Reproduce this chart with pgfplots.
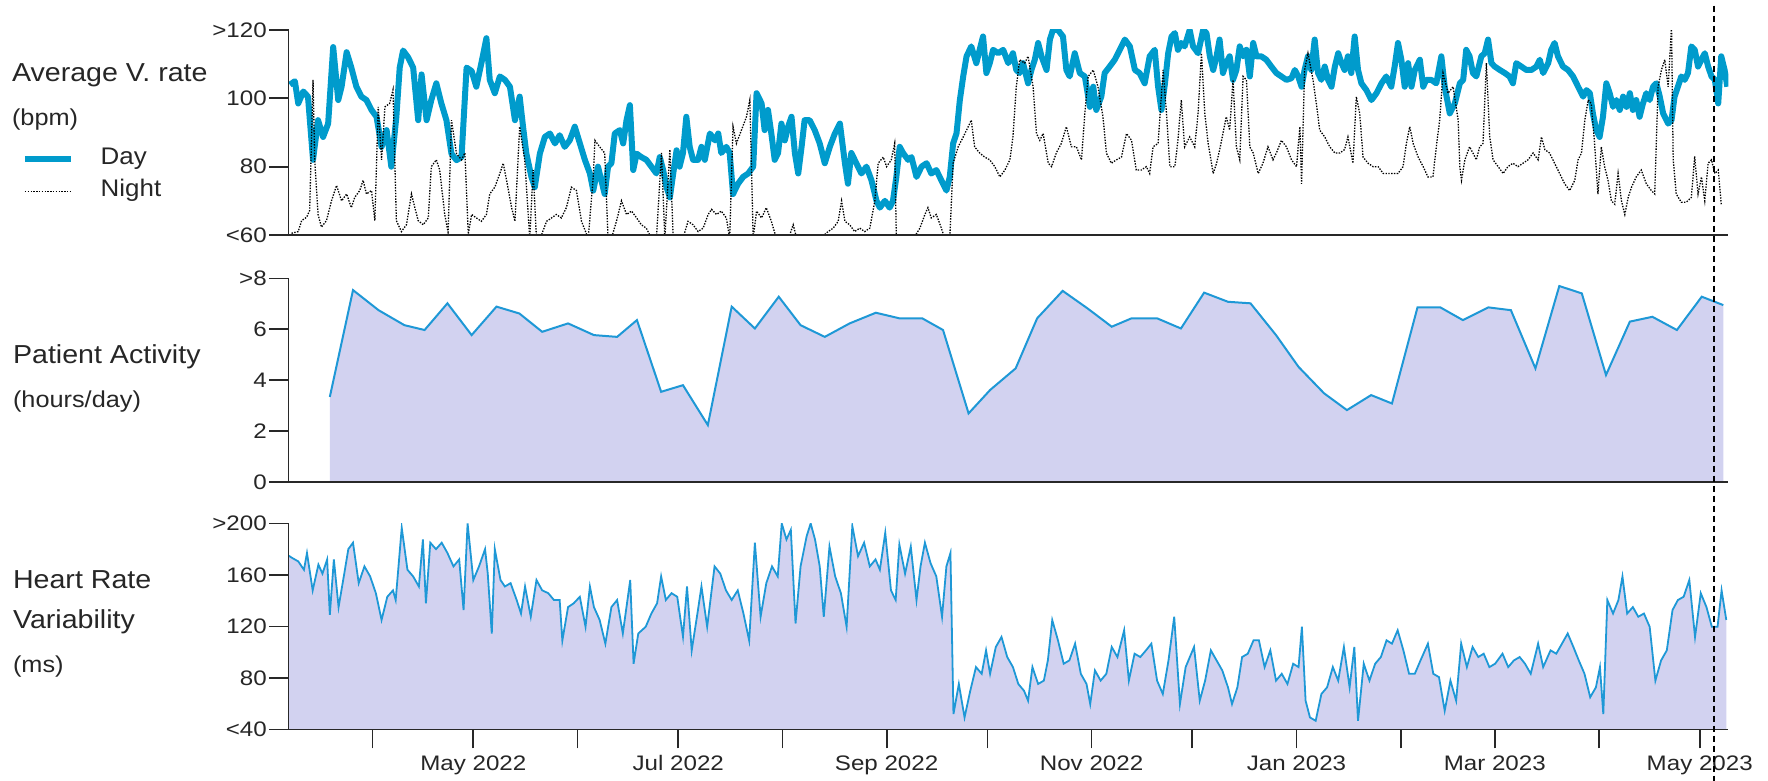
\documentclass[border=0pt]{standalone}
\usepackage{fontspec}
\setmainfont{Liberation Sans}
\usepackage{pgfplots}
\usepackage{pgfplotstable}
\pgfplotsset{compat=1.18}
\definecolor{daycol}{RGB}{0,155,204}
\definecolor{hrvcol}{RGB}{30,152,214}
\definecolor{fillcol}{RGB}{210,210,240}
\definecolor{axcol}{RGB}{40,40,40}

\pgfplotstableread{
d v
65.4 104
66.9 105
67.9 98.5
69.4 102
70.8 100.5
72.3 82
73.8 93.6
75.3 88.7
76.8 92.6
78.3 115
79.8 99.5
80.8 103.4
82.3 113.5
83.7 109
85.2 103.4
86.7 100.5
88.2 99.5
89.7 96.6
91.2 94.6
92.7 85.8
94.2 90.7
95.6 80
97.1 94.6
98.1 109
99.1 114
100.6 112
102.1 109
103.6 93.6
104.6 107
106.1 93.6
107.5 99.5
109 104.4
110.5 98.5
112 93.6
113.5 83.8
115 81.9
116.5 82.8
118 109
119.5 108
120.9 103.4
122.4 110.3
123.9 117.6
124.9 105.4
126.4 101.5
127.9 106.4
129.4 105.4
130.9 103.4
132.4 93.6
133.8 100.5
134.8 91.7
135.8 83.8
137.3 77
138.3 74
139.8 83.8
141.3 88.7
142.8 89.7
144.3 86.8
145.7 89.2
147.2 85.8
148.7 87.7
150.2 91.7
153.2 82
154.7 78
155.7 73
157.1 80
158.1 76
159.1 72
160.1 80
161.1 81
162.1 89.7
163.6 90.7
164.6 86.8
165.6 93.6
166.6 98
167.6 79
168.6 83.8
170 82.8
171.5 82
173 80
174.5 78
175.5 82.8
176.5 79
177.5 74
178.5 71
179.5 78
180.5 84.8
181.4 80
182.4 84
183.4 94.6
184.4 85.8
185.4 82
186.9 82
187.9 85.8
188.9 82
190.4 89.7
191.9 87.7
192.9 89.7
193.8 84
195.3 85.8
196.3 84
197.3 72
198.8 75
200.3 77
201.8 78
203.3 80
204.3 101.5
205.8 98.5
206.7 90.7
207.7 96.6
208.7 89.7
209.7 82
210.7 84
211.7 92.6
212.7 87.7
213.7 91.7
214.7 94.6
215.7 84
216.7 78
217.7 85.8
218.6 93.6
220.1 93.6
221.6 90.7
223.1 86.8
224.6 81
226.1 85.8
227.6 89.7
229.1 92.6
230.6 81
231.5 75
232.5 84
234 81
235.5 78
237 80
238.5 76
240 70
241 68
242.5 70
243.9 68
244.9 70
245.9 77
246.9 85.8
247.9 84
249.4 82
250.4 82.8
251.9 77
253.4 80
254.9 81
256.3 78
257.8 79
259.3 76
260.8 73
261.8 77
262.8 86.8
263.8 89.7
264.8 99.5
265.8 106.4
266.8 112.3
268.2 115.2
269.7 110.3
270.7 114.2
271.7 118.1
272.7 107.4
273.7 110.3
274.7 114.2
276.2 113.2
277.7 114.2
279.2 110.3
280.6 113.2
281.6 108.3
282.6 107.4
283.6 110.3
285.1 104.4
286.1 108.3
287.1 111.3
288.1 116.2
289.1 112.3
290.6 108.3
291.6 117.2
292.5 120
294 120
295.5 118.1
296.5 108.3
297.5 106.4
299 113.2
300.5 107.4
302 106.4
303.5 97.5
304.5 103.4
305.4 96.6
306.9 100.5
307.9 107.4
309.4 109.3
310.9 111.3
312.4 114.2
313.9 117.2
315.4 115.2
316.9 108.3
318.3 107.4
319.8 104.4
321.3 112.3
322.8 114.2
323.8 103.4
324.8 96.6
325.8 104
326.8 113.2
327.8 118.1
328.8 119.1
329.7 114.2
330.7 116.2
331.7 115.2
333.2 120
334.2 115.2
335.7 113.2
337.2 120
338.2 119.1
339.2 112.3
340.2 108.3
341.2 112.3
342.1 117.2
343.1 107.4
344.1 110.3
345.1 112.3
346.1 105.4
347.1 108.3
348.1 115.2
349.1 112.3
350.1 114.2
351.1 106.4
352.1 116.2
353.1 112.3
354.5 112.3
356 111.3
357.5 109.3
359 107.4
360.5 106.4
362 105.4
363.5 105.9
364.5 108.3
365.5 106.4
366.5 103.4
367.4 108.3
368.4 112.3
369.4 108.3
370.4 117.2
371.4 107.4
372.4 105.4
373.4 109.3
374.4 105.4
375.4 103.4
376.4 109.3
377.4 113.2
378.4 110.3
379.3 108.3
380.3 112.3
381.3 107.4
382.3 118.1
383.3 108.3
384.3 104.4
385.8 102.4
387.3 99.5
388.8 101.5
390.3 104.4
391.7 106.4
393.2 103.4
394.2 109.3
395.2 116.2
396.2 111.3
397.2 103.4
398.2 110.3
399.2 103.4
400.2 108.3
401.7 111.3
402.7 103.4
403.6 105.4
405.1 105.4
406.6 104.4
408.1 112.3
409.1 103.4
410.6 95.6
412.1 98.5
413.6 104.4
414.6 105.4
415.5 114.2
416.5 112.3
417.5 107.4
418.5 106.4
420 112.3
421 113.2
422 117.2
423 110.3
424 109.3
425.5 108.3
427 107.4
428.4 106.4
429.4 104.4
430.4 110.3
431.9 109.3
433.4 108.3
434.9 108.3
436.4 109.3
437.4 111.3
438.4 107.4
439.9 110.3
440.8 114.2
441.8 116.2
442.8 112.3
444.3 109.3
445.8 108.3
447.3 106.4
448.8 103.4
450.3 100.5
451.3 102.4
452.3 101.5
453.2 95.6
454.2 90.7
455.2 88.7
456.2 94.6
457.2 104.4
458.2 101.5
459.2 97.5
460.2 99.5
461.2 96.6
462.2 100.5
463.2 97.5
464.2 101.5
465.1 96.6
466.1 99.5
467.1 94.6
468.1 98.5
469.1 101.5
470.1 99.5
471.1 103.4
472.1 104.4
473.1 100.5
474.1 95.6
475.6 92.6
476.6 93.6
477.5 100.5
478.5 103.4
479.5 106.4
480.5 105.4
481.5 107.4
482.5 115.2
483.5 114.2
484.5 109.3
485.5 111.3
486.5 113.2
487.5 109.3
488.5 106.4
489.5 105.4
490.5 98.5
491.4 112.3
492.4 108.3
493.2 103.4
}\dayT

\pgfplotstableread{
d v
65.9 60.5
67.9 61
68.9 64.2
70.4 65.2
71.3 67.2
72.3 105.4
72.8 82
73.8 66
74.8 62.3
76.3 64.2
77.8 70
79.3 74.5
80.8 70
82.3 72
83.7 68
84.7 71
86.2 73
87.2 76
88.2 72
89.7 73
90.7 64.2
91.7 97.5
92.7 82
93.7 97.5
95.1 98.5
96.1 102.5
97.1 64.2
98.6 61
100.1 63
101.6 72
102.6 68
103.6 64.2
105.1 63
106.6 65
107.5 80
109 82
110 79
111.5 66
112.5 60.8
113.5 93.6
115 83.8
116.5 82
117.5 84
118.5 60.3
119.5 66
120.9 65
122.4 64
123.9 66
124.9 72
126.4 74
127.9 78
128.9 81
129.9 76
131.4 68
132.4 64
133.8 91.7
135.3 82
136.8 59
137.8 79
138.8 59
140.3 60
141.8 64
143.3 65
144.7 66
146.2 65
147.7 68
149.2 74
150.7 73
152.2 64
154.2 59
155.7 77
156.2 87.7
157.6 85.8
159.1 84
160.1 59
161.1 59
162.6 64
164.1 70
165.6 66
167.1 67
168.6 65
170 63
171.5 62
173 59
174.5 59
176 84
177 59
178.5 85
179.5 59
181 59
182.4 59
183.9 64
185.4 63
186.9 61
188.4 62
189.9 66
190.9 67.5
192.4 66
193.8 67
195.3 65
196.3 59
197.3 91.7
198.3 86.8
199.8 90.7
201.3 94.6
202.3 99.5
203.3 59
204.3 67
205.8 65
207.2 68
208.7 64
210.2 59
212 59
213.5 58
215.2 63
216.5 58
218 58
222 58
225.6 61
227.1 62
228.6 64
229.6 70
230.6 64
232 63
233.5 61
235 62
236.5 61
238 62
239.5 70
240.5 81
242 82.8
243 80
244.4 82
245.4 86.8
245.9 59
247.4 58
250.4 58
252.9 62
254.4 66
255.3 68
256.3 65
257.8 66
259.3 62
260.3 59
261.8 59
262.8 81
264.3 85.8
265.8 88.7
267.3 91.7
268.2 93.6
269.2 85.8
270.7 84
272.2 82.8
273.7 82
275.2 80
276.7 77
278.2 79
279.7 82
280.6 88.7
281.6 103.4
282.6 111.3
284.1 110.3
285.1 112.3
286.6 103.4
287.6 89.7
288.6 87.7
289.6 89.7
291.1 81
292.1 80
293.5 84
295 86.8
296.5 91.7
298 85.8
299.5 85.8
301 82
302 95.6
303 106.4
304.5 108.3
305.9 103.4
307.4 94.6
308.4 84
309.9 81
311.4 82
312.9 82.8
314.4 89.7
315.9 87.7
317.3 79
318.8 79
320.3 80
321.3 78
322.3 85.8
323.8 86.8
325.3 108.3
326.3 95.6
327.3 80
328.8 80
329.7 87.7
330.7 99.5
331.7 85.8
333.2 88.7
334.7 85.8
335.7 95.6
336.7 113.2
337.7 95.6
338.7 86.8
340.2 78
341.2 81
342.1 84.8
343.1 89.7
344.1 94.6
345.1 90.7
346.1 105.4
347.1 85.8
348.1 82
349.1 106.4
350.1 105.4
351.1 85.8
352.1 84
353.6 78
355 81
356.5 85.8
358 82
359 84
360.5 87.7
362 85.8
363.5 82
365 80
366 91.7
366.5 75
367.4 108.3
368.4 113.2
369.9 105.4
370.9 98.5
371.9 90.7
373.4 88.7
374.9 85.8
376.4 84
377.9 84
379.3 85
380.3 88.7
381.8 81
382.8 100.5
383.8 95.6
384.8 82.8
386.3 81
387.8 80
389.3 80
390.8 78
392.2 78
393.7 78
395.2 78
396.7 80
397.7 86.8
398.7 91.7
399.7 86.8
401.2 82.8
402.7 80
404.1 77
405.6 77
406.6 85.8
407.6 93.6
408.6 107.4
410.1 101.5
411.6 103.4
413.1 93.6
413.6 80
414.1 76
415.1 82
416.5 85.8
417.5 84
418.5 82
419.5 85.8
420.5 86.8
421.5 110.3
422.5 88.7
423.5 82
425 80
426.5 78
427.9 80
429.4 81
430.9 80
432.4 81
433.9 82
435.4 84
436.9 82
437.9 88.7
438.9 85
440.3 84
441.8 81
443.3 78
444.8 75
446.3 73
447.8 76
448.8 82
449.8 84
450.8 93.6
451.8 99.5
452.7 98.5
453.7 86.8
454.7 72
455.7 85.8
456.7 80
457.7 76
458.7 70
459.7 69
460.7 78
461.7 70
462.7 66
463.7 71
464.7 74
466.1 77
467.6 79
469.1 75
470.6 73
471.6 72
472.6 103.4
473.6 108.3
474.6 111.3
475.6 103.4
476.6 121
477.1 82
478 72
479.5 69.6
481 69.6
482.5 71
483.5 83
484.5 72
485.5 77
486.5 70
487.5 81
488.5 82
489.5 78
490.5 79
491.4 69
}\nightT

\pgfplotstableread{
d v
77.3 3.34
84.2 7.54
91.8 6.75
99.5 6.16
105.5 5.97
112.3 7.02
119.5 5.77
126.9 6.89
133.7 6.62
140.5 5.9
148.2 6.23
155.9 5.77
162.8 5.7
168.7 6.36
175.9 3.54
182.4 3.8
189.8 2.23
196.9 6.89
203.8 6.03
210.9 7.28
217.4 6.16
224.6 5.7
232.0 6.23
239.8 6.65
246.8 6.43
253.6 6.43
259.8 5.97
267.4 2.69
273.8 3.61
281.4 4.46
287.8 6.43
295.4 7.51
302.8 6.82
310.0 6.1
315.9 6.43
323.5 6.43
330.6 6.03
337.5 7.44
344.6 7.08
351.3 7.02
358.9 5.77
365.6 4.52
373.2 3.48
380.0 2.82
387.2 3.41
393.4 3.08
401.0 6.86
407.8 6.86
414.5 6.36
422.1 6.86
428.8 6.75
436.1 4.46
443.2 7.7
449.9 7.41
457.1 4.2
464.2 6.3
470.9 6.49
478.2 5.97
485.6 7.28
492.0 6.95
}\actT

\pgfplotstableread{
d v
65 175
66.2 173
67.9 170.5
69.6 164
70.5 177
72.2 148
73.9 168
75.1 161
76.5 172
77.3 129
78.5 172
79.9 135
81.6 161
82.8 180
84.2 185
85.9 153.6
87.6 166.6
89.3 158.8
91.0 145.8
92.7 125
94.4 143
96.1 148
96.9 140.5
98.7 196.6
100.4 164
102.1 158.8
103.8 151
105.0 187.5
105.9 138
107.2 185
108.9 180
110.6 185
112.3 177
114.1 166.6
115.8 172
117.1 132.7
118.3 200
120.0 156
121.7 166.6
123.5 180
124.3 161
125.5 114.5
126.4 180
128.1 156
129.4 151
131.1 153.6
132.9 140.5
134.2 130
135.4 151
137.1 127.5
138.8 156
140.5 148
142.3 145.8
144.0 140.5
145.7 140.5
146.5 109
148.2 135
149.9 138
151.7 143
153.4 119.7
154.7 151
155.9 135
157.6 125
159.3 106.6
161.1 135
162.8 140.5
164.5 114.5
166.7 156
167.7 91
169.1 114.5
171.3 119.7
173.0 130
174.7 138
175.9 158.8
177.3 140.5
179.0 145.8
180.7 143
182.4 112
183.6 151
185.0 101.4
186.7 130
187.9 151
189.6 119.7
191.8 166.6
193.5 161
195.2 148
196.9 140.5
198.7 148
200.4 130
202.1 109
203.8 185
205.5 127.5
207.2 153.6
208.9 166.6
210.6 158.8
211.8 200
213.2 187.5
214.5 195
215.9 122.3
217.4 166.6
219.2 190
220.4 200
221.7 187.5
223.1 166.6
224.3 127.5
226.0 182
227.7 158.8
229.4 145.8
231.1 119.7
232.8 198
234.5 174.5
236.3 185
238.0 166.6
239.7 172
241.0 164
242.6 192.7
244.3 148
245.7 140.5
246.8 183.6
248.5 161
250.2 182
251.9 140.5
253.1 166.6
254.4 185
256.1 169
257.8 158.8
259.5 127.5
260.8 166.6
262.0 177
262.9 51.9
264.5 75.3
266.2 49.3
267.9 70
269.6 88.4
271.3 83.2
272.6 101.4
273.8 83.2
275.5 104
277.2 111.8
278.9 96.2
280.6 88.4
282.2 75.3
283.9 70
285.1 62.3
286.4 88.4
288.1 75.3
289.8 77.9
291.0 93.6
292.3 124.9
294.0 109.2
295.7 91
297.4 93.6
299.1 106.6
300.8 83.2
302.5 75.3
303.6 59.7
305.0 85.8
306.7 77.9
308.4 83.2
310.0 104
311.7 96.2
313.7 117
315.1 77.9
316.8 98.8
318.5 96.2
320.2 101.4
321.8 106.6
323.5 77.9
325.2 67.5
326.9 93.6
328.6 127.5
330.3 59.7
332.0 88.4
334.5 104
336.2 62.3
337.8 77.9
339.5 101.4
341.2 93.6
342.9 85.8
344.6 72.7
345.8 59.7
347.4 72.7
348.8 96.2
350.5 98.8
352.2 109.2
353.8 109.2
355.5 88.4
357.2 101.4
358.9 77.9
360.6 83.2
362.3 75.3
364.0 91
365.6 88.4
366.6 119.7
367.7 62.3
369.0 49.3
370.7 46.7
372.4 67.5
374.1 72.7
375.8 88.4
377.4 77.9
379.1 104
380.8 72.7
382.2 104
383.3 46.7
385.0 91
386.7 77.9
388.4 91
390.1 96.2
391.8 109.2
393.4 106.6
395.1 117
396.8 101.4
398.5 83.2
400.2 83.2
401.9 93.6
404.1 106.6
405.7 83.2
407.4 80.6
409.1 54.5
410.8 77.9
412.5 62.3
414.0 106.6
415.7 88.4
417.4 104
419.1 96.2
420.7 98.8
422.4 88.4
424.1 91
426.3 98.8
428.0 88.4
429.7 93.6
431.4 96.2
433.0 91
434.7 83.2
436.9 106.6
438.4 88.4
440.6 101.4
442.3 98.8
444.0 106.6
445.7 114.5
447.4 104
449.0 93.6
450.7 83.2
452.4 65
454.1 72.7
455.3 88.4
456.3 51.9
457.5 140.5
459.2 130
460.8 140.5
462.0 158.8
463.4 130
465.1 135
466.7 127.5
468.4 130
470.1 119.7
471.8 77.9
473.5 93.6
475.2 101.4
476.9 132.7
478.5 140.5
480.2 143
481.9 156
483.6 111.8
485.3 145.8
487.0 135
488.6 119.7
490.3 119.7
491.5 148
492.9 125
}\hrvT

\pgfplotsset{
  panel/.style={
    scale only axis, width=719.9pt,
    xmin=65, xmax=493.5,
    axis x line=bottom, axis y line=left,
    axis line style={axcol, line width=0.9pt, -},
    every outer x axis line/.append style={-},
    every outer y axis line/.append style={-},
    tick align=outside,
    major tick length=9.5pt,
    ytick style={axcol, line width=0.9pt},
    xtick style={axcol, line width=0.9pt},
    yticklabel style={font=\fontsize{10.5}{12}\selectfont, xscale=1.15, inner sep=1pt, text=black!85},
    xticklabel style={font=\fontsize{10.5}{12}\selectfont, xscale=1.15, text=black!85},
    axis on top,
    clip=true,
  },
}

\begin{document}
\begin{tikzpicture}
\useasboundingbox (0pt,0pt) rectangle (884pt,-390.5pt);

% top panel
\begin{axis}[panel, at={(144.25pt,-15pt)}, anchor=north west, height=102.5pt,
  ymin=60, ymax=120, ytick={60,80,100,120}, yticklabels={<60,80,100,>120},
  xtick=\empty]
\addplot[daycol, line width=3pt, line join=round] table[x=d,y=v] {\dayT};
\addplot[black, dash pattern=on 0.7pt off 0.7pt, line width=0.65pt] table[x=d,y=v] {\nightT};
\coordinate (vl) at (axis cs:489.3,120);
\end{axis}

% middle panel
\begin{axis}[panel, at={(144.25pt,-139.2pt)}, anchor=north west, height=101.7pt,
  ymin=0, ymax=8, ytick={0,2,4,6,8}, yticklabels={0,2,4,6,>8},
  xtick=\empty]
\addplot[draw=none, fill=fillcol] table[x=d,y=v] {\actT} \closedcycle;
\addplot[hrvcol, line width=1pt] table[x=d,y=v] {\actT};
\end{axis}

% bottom panel
\begin{axis}[panel, at={(144.25pt,-261.7pt)}, anchor=north west, height=103pt,
  ymin=40, ymax=200, ytick={40,80,120,160,200}, yticklabels={<40,80,120,160,>200},
  xtick={90,120,151,181,212,243,273,304,334,365,396,424,455,485},
  xticklabels={,May 2022,,Jul 2022,,Sep 2022,,Nov 2022,,Jan 2023,,Mar 2023,,May 2023}]
\addplot[draw=none, fill=fillcol] table[x=d,y=v] {\hrvT} \closedcycle;
\addplot[hrvcol, line width=0.9pt] table[x=d,y=v] {\hrvT};
\end{axis}

% vertical dashed marker
\coordinate (ttop) at (0pt,-2.8pt);
\coordinate (tbot) at (0pt,-390.5pt);
\draw[black, line width=0.7pt, dash pattern=on 3pt off 2pt] (vl |- ttop) -- (vl |- tbot);

% left labels
\begin{scope}[every node/.style={anchor=west, inner sep=0pt, text=black!85}]
\node[font=\fontsize{13}{15}\selectfont, xscale=1.1] at (5.8pt,-37.5pt) {Average V. rate};
\node[font=\fontsize{11.5}{13}\selectfont, xscale=1.1] at (5.8pt,-60pt) {(bpm)};
\node[font=\fontsize{12}{14}\selectfont, xscale=1.08] at (50.15pt,-79.5pt) {Day};
\node[font=\fontsize{12}{14}\selectfont, xscale=1.08] at (50.15pt,-95pt) {Night};
\node[font=\fontsize{13}{15}\selectfont, xscale=1.1] at (6.3pt,-178.6pt) {Patient Activity};
\node[font=\fontsize{11.5}{13}\selectfont, xscale=1.1] at (6.3pt,-200.9pt) {(hours/day)};
\node[font=\fontsize{13}{15}\selectfont, xscale=1.1] at (6.3pt,-289.6pt) {Heart Rate};
\node[font=\fontsize{13}{15}\selectfont, xscale=1.1] at (6.3pt,-310.8pt) {Variability};
\node[font=\fontsize{11.5}{13}\selectfont, xscale=1.1] at (6.3pt,-333.3pt) {(ms)};
\end{scope}
\draw[daycol, line width=3pt] (12.45pt,-79.5pt) -- (35.4pt,-79.5pt);
\draw[black, line width=0.65pt, dash pattern=on 0.7pt off 0.7pt] (12.45pt,-95.9pt) -- (35.4pt,-95.9pt);
\end{tikzpicture}
\end{document}
